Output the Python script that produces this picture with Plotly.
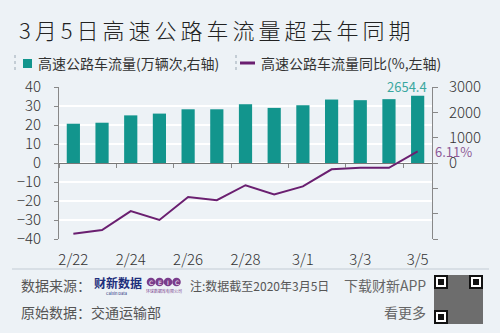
import plotly.graph_objects as go

# ---------------- data ----------------
dates = ["2/22", "2/23", "2/24", "2/25", "2/26", "2/27", "2/28", "2/29",
         "3/1", "3/2", "3/3", "3/4", "3/5"]
flow = [1550, 1590, 1880, 1950, 2120, 2120, 2320, 2175, 2280, 2505, 2480, 2520, 2654.4]
yoy = [-37.2, -35.3, -25.3, -30.0, -17.9, -19.6, -11.7, -16.5, -12.3, -3.3, -2.5, -2.5, 6.11]
tick_dates = dates[::2]

title_text = "3月5日高速公路车流量超去年同期"
legend_bar = "高速公路车流量(万辆次,右轴)"
legend_line = "高速公路车流量同比(%,左轴)"

TEAL = "#12958d"
PURPLE = "#6a1f70"
BG = "#edf2f6"
FONT = "Noto Sans CJK SC"

W, H = 500, 333
L, R, T, B = 59, 68, 87, 94
PW, PH = W - L - R, H - T - B


def px(x):
    return (x - L) / PW


def py(y):
    return (H - B - y) / PH


fig = go.Figure()
fig.add_trace(go.Bar(x=dates, y=flow, xaxis="x", yaxis="y", marker_color=TEAL,
                     marker_line_width=0, showlegend=False, hoverinfo="skip"))
fig.add_trace(go.Scatter(x=dates, y=yoy, xaxis="x2", yaxis="y2", mode="lines",
                         line=dict(color=PURPLE, width=2), showlegend=False,
                         hoverinfo="skip"))

tick_font = dict(family=FONT, size=15, color="#333333", weight=300)

fig.update_layout(
    width=W, height=H,
    margin=dict(l=L, r=R, t=T, b=B),
    paper_bgcolor=BG, plot_bgcolor=BG,
    bargap=0.54,
    font=dict(family=FONT, color="#333333"),
    xaxis=dict(type="category", categoryorder="array", categoryarray=dates,
               range=[-0.5, 12.5], tickmode="array", tickvals=tick_dates,
               ticktext=tick_dates, ticks="", showline=False, showgrid=False,
               zeroline=False, tickfont=tick_font, ticklabelstandoff=10,
               anchor="y"),
    xaxis2=dict(type="category", categoryorder="array", categoryarray=dates,
                range=[-0.5, 12.5], overlaying="x", anchor="free", position=0.5,
                side="bottom", ticks="outside", ticklen=4, tickcolor="#888888",
                tickson="boundaries", dtick=2, tick0=0, showticklabels=False,
                showline=False, showgrid=False, zeroline=False),
    yaxis=dict(side="right", range=[-3000, 3000], tickmode="array",
               tickvals=[-3000, -2000, -1000, 0, 1000, 2000, 3000],
               ticktext=["", "", "", "0", "1000", "2000", "3000"],
               ticks="outside", ticklen=5, tickcolor="#888888",
               showline=True, linecolor="#888888", linewidth=1,
               showgrid=False, zeroline=True, zerolinecolor="#777777",
               zerolinewidth=1, tickfont=tick_font, ticklabelstandoff=8,
               anchor="x"),
    yaxis2=dict(side="left", overlaying="y", range=[-40, 40], dtick=10,
                tick0=0, ticks="outside", ticklen=4, tickcolor="#888888",
                showline=True, linecolor="#888888", linewidth=1,
                showgrid=True, gridcolor="#ffffff", gridwidth=1.5,
                zeroline=False, tickfont=tick_font, ticklabelstandoff=10,
                anchor="x"),
)

ann = []
shapes = []

# title
ann.append(dict(x=px(17), y=py(29), xref="paper", yref="paper", xanchor="left",
                yanchor="middle", showarrow=False,
                text='<span style="letter-spacing:4px">' + title_text + "</span>",
                font=dict(family=FONT, size=22, color="#222222", weight=300)))

# legend
shapes.append(dict(type="rect", xref="paper", yref="paper", x0=px(23), x1=px(32),
                   y0=py(68), y1=py(59), fillcolor=TEAL, line_width=0))
ann.append(dict(x=px(36), y=py(63), xref="paper", yref="paper", xanchor="left",
                yanchor="middle", showarrow=False, text=legend_bar,
                font=dict(family=FONT, size=14, color="#333333")))
shapes.append(dict(type="line", xref="paper", yref="paper", x0=px(240), x1=px(255),
                   y0=py(63), y1=py(63), line=dict(color=PURPLE, width=3)))
ann.append(dict(x=px(259), y=py(63), xref="paper", yref="paper", xanchor="left",
                yanchor="middle", showarrow=False, text=legend_line,
                font=dict(family=FONT, size=14, color="#333333")))
for xx in (15, 236):
    shapes.append(dict(type="line", xref="paper", yref="paper", x0=px(xx), x1=px(xx),
                       y0=py(55), y1=py(72), line=dict(color="#9aa8b4", width=1, dash="dot")))

# value labels
ann.append(dict(x=dates[-1], y=flow[-1], xref="x", yref="y", xanchor="right",
                yanchor="bottom", xshift=11, yshift=-2, showarrow=False,
                text=f"{flow[-1]:.1f}", font=dict(family=FONT, size=13, color="#3aa79f")))
ann.append(dict(x=dates[-1], y=yoy[-1], xref="x2", yref="y2", xanchor="left",
                yanchor="middle", xshift=15, yshift=0, showarrow=False,
                text=f"{yoy[-1]:.2f}%", font=dict(family=FONT, size=13, color="#8d5a97")))

# footer
shapes.append(dict(type="line", xref="paper", yref="paper", x0=px(12), x1=px(489),
                   y0=py(269), y1=py(269), line=dict(color="#c3ccd5", width=1)))
foot = dict(family=FONT, size=14, color="#555555")
ann.append(dict(x=px(19), y=py(285), xref="paper", yref="paper", xanchor="left",
                yanchor="middle", showarrow=False, text="数据来源：", font=foot))
ann.append(dict(x=px(19), y=py(312), xref="paper", yref="paper", xanchor="left",
                yanchor="middle", showarrow=False, text="原始数据：交通运输部", font=foot))
ann.append(dict(x=px(92), y=py(282), xref="paper", yref="paper", xanchor="left",
                yanchor="middle", showarrow=False, text="<b>财新数据</b>",
                font=dict(family=FONT, size=12, color="#1e2f7c")))
ann.append(dict(x=px(116), y=py(293), xref="paper", yref="paper", xanchor="center",
                yanchor="middle", showarrow=False, text="Caixin Data",
                font=dict(family=FONT, size=4, color="#1e2f7c")))
for i, ch in enumerate("CEIC"):
    cx = 151 + i * 8.5
    shapes.append(dict(type="circle", xref="paper", yref="paper", x0=px(cx - 4.3),
                       x1=px(cx + 4.3), y0=py(286.3), y1=py(277.7),
                       fillcolor="#7a3d8c", line_width=0))
    ann.append(dict(x=px(cx), y=py(282), xref="paper", yref="paper", xanchor="center",
                    yanchor="middle", showarrow=False, text=ch,
                    font=dict(family="DejaVu Sans", size=6, color="#ffffff")))
ann.append(dict(x=px(164), y=py(291), xref="paper", yref="paper", xanchor="center",
                yanchor="middle", showarrow=False, text="环球数据库有限公司",
                font=dict(family=FONT, size=4, color="#7a3d8c")))
ann.append(dict(x=px(188), y=py(285), xref="paper", yref="paper", xanchor="left",
                yanchor="middle", showarrow=False, text="注:数据截至2020年3月5日",
                font=dict(family=FONT, size=12, color="#555555")))
ann.append(dict(x=px(428), y=py(285), xref="paper", yref="paper", xanchor="right",
                yanchor="middle", showarrow=False, text="下载财新APP",
                font=dict(family=FONT, size=14, color="#666666")))
ann.append(dict(x=px(428), y=py(312), xref="paper", yref="paper", xanchor="right",
                yanchor="middle", showarrow=False, text="看更多",
                font=dict(family=FONT, size=14, color="#666666")))

# QR-code placeholder
qx0, qy0, qs = 434, 275, 49
shapes.append(dict(type="rect", xref="paper", yref="paper", x0=px(qx0), x1=px(qx0 + qs),
                   y0=py(qy0 + qs), y1=py(qy0), fillcolor="#6d6d6d", line_width=0))
for fx, fy in ((qx0, qy0), (qx0 + qs - 14, qy0), (qx0, qy0 + qs - 14)):
    shapes.append(dict(type="rect", xref="paper", yref="paper", x0=px(fx), x1=px(fx + 14),
                       y0=py(fy + 14), y1=py(fy), fillcolor="#111111", line_width=0))
    shapes.append(dict(type="rect", xref="paper", yref="paper", x0=px(fx + 2), x1=px(fx + 12),
                       y0=py(fy + 12), y1=py(fy + 2), fillcolor="#ffffff", line_width=0))
    shapes.append(dict(type="rect", xref="paper", yref="paper", x0=px(fx + 4), x1=px(fx + 10),
                       y0=py(fy + 10), y1=py(fy + 4), fillcolor="#111111", line_width=0))

fig.update_layout(annotations=ann, shapes=shapes)
fig.write_html("out.html")
